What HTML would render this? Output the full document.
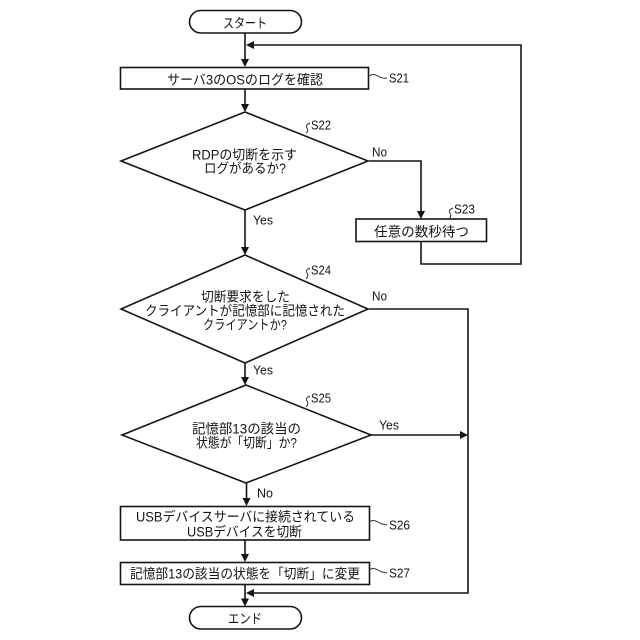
<!DOCTYPE html>
<html><head><meta charset="utf-8"><style>
html,body{margin:0;padding:0;background:#fff}
svg{display:block}
text{font-family:"Liberation Sans","Noto Sans CJK JP",sans-serif;font-size:13.5px;fill:#141414}
.s{font-size:13px}
.l{fill:#fff;stroke:#151515;stroke-width:1.6}
.c{fill:none;stroke:#151515;stroke-width:1.6}
.q{fill:none;stroke:#333;stroke-width:1}
.a{fill:#151515;stroke:none}
</style></head><body>
<svg width="640" height="640" viewBox="0 0 640 640" xmlns="http://www.w3.org/2000/svg">
<!-- connectors -->
<path class="c" d="M245 33V61M245 89V106M245 210V249M245 363V379M246.500 483V500M245 540V556M245 585V600"/>
<path class="c" d="M369 161H421V213M421 242V264H521V45H251"/>
<path class="c" d="M369 309H468V593H251M371 435H462"/>
<!-- arrowheads -->
<path class="a" d="M245 67l-4-8h8zM245 112l-4-8h8zM245 255l-4-8h8zM245 385l-4-8h8zM246.500 506l-4-8h8zM245 562l-4-8h8zM245 606.500l-4-8h8zM421 219l-4-8h8zM246 45l8-4v8zM246 593l8-4v8zM468 435l-8-4v8z"/>
<!-- shapes -->
<rect class="l" x="189.500" y="10.500" width="112" height="22.500" rx="11.250"/>
<rect class="l" x="120.500" y="67.500" width="248" height="21.500"/>
<path class="l" d="M245 112L368 161L245 210L121 161Z"/>
<rect class="l" x="356" y="219" width="130.500" height="22.500"/>
<path class="l" d="M245 255L368 309L245 363L121 309Z"/>
<path class="l" d="M246 385L371 435L246 483L122 435Z"/>
<rect class="l" x="120.500" y="506.500" width="249" height="33.500"/>
<rect class="l" x="120.500" y="562.500" width="249" height="22"/>
<rect class="l" x="189.500" y="606.500" width="112" height="22.500" rx="11.250"/>
<!-- squiggles -->
<path class="q" d="M369 76q4-3 9 0t9 2M369 522q4-3 9 0t9 3M369 570q4-3 9 0t9 3"/>
<path class="q" d="M310 123q-5 2-3 5t-1 5M453 208q-5 2-3 5t-1 6M310 268q-5 2-3 5t-1 6M310 396q-5 2-3 5t-1 6"/>
<!-- text -->
<text x="223" y="28" textLength="44" lengthAdjust="spacingAndGlyphs">スタート</text>
<text x="167" y="84.500" textLength="156" lengthAdjust="spacingAndGlyphs">サーバ3のOSのログを確認</text>
<text class="s" x="389" y="82.500" textLength="20" lengthAdjust="spacingAndGlyphs">S21</text>
<text class="s" x="311" y="129.500" textLength="20" lengthAdjust="spacingAndGlyphs">S22</text>
<text x="192" y="159.500" textLength="105" lengthAdjust="spacingAndGlyphs">RDPの切断を示す</text>
<text x="204" y="173" textLength="82" lengthAdjust="spacingAndGlyphs">ログがあるか?</text>
<text class="s" x="372" y="156.500" textLength="15" lengthAdjust="spacingAndGlyphs">No</text>
<text class="s" x="454" y="213.500" textLength="21" lengthAdjust="spacingAndGlyphs">S23</text>
<text class="s" x="253" y="224.500" textLength="20" lengthAdjust="spacingAndGlyphs">Yes</text>
<text x="374" y="236.500" textLength="95" lengthAdjust="spacingAndGlyphs">任意の数秒待つ</text>
<text class="s" x="311" y="274.500" textLength="20" lengthAdjust="spacingAndGlyphs">S24</text>
<text x="201" y="301.500" textLength="89" lengthAdjust="spacingAndGlyphs">切断要求をした</text>
<text x="145" y="315.500" textLength="200" lengthAdjust="spacingAndGlyphs">クライアントが記憶部に記憶された</text>
<text x="203" y="329.500" textLength="84" lengthAdjust="spacingAndGlyphs">クライアントか?</text>
<text class="s" x="372" y="300.500" textLength="15" lengthAdjust="spacingAndGlyphs">No</text>
<text class="s" x="253" y="374.500" textLength="20" lengthAdjust="spacingAndGlyphs">Yes</text>
<text class="s" x="311" y="402.500" textLength="20" lengthAdjust="spacingAndGlyphs">S25</text>
<text class="s" x="379" y="429.500" textLength="20" lengthAdjust="spacingAndGlyphs">Yes</text>
<text x="192" y="433.500" textLength="109" lengthAdjust="spacingAndGlyphs">記憶部13の該当の</text>
<text x="196" y="447.500" textLength="101" lengthAdjust="spacingAndGlyphs">状態が「切断」か?</text>
<text class="s" x="257" y="497.500" textLength="16" lengthAdjust="spacingAndGlyphs">No</text>
<text x="136" y="521.500" textLength="219" lengthAdjust="spacingAndGlyphs">USBデバイスサーバに接続されている</text>
<text x="187" y="536.500" textLength="115" lengthAdjust="spacingAndGlyphs">USBデバイスを切断</text>
<text class="s" x="389" y="529.500" textLength="21" lengthAdjust="spacingAndGlyphs">S26</text>
<text x="130" y="578.500" textLength="230" lengthAdjust="spacingAndGlyphs">記憶部13の該当の状態を「切断」に変更</text>
<text class="s" x="389" y="577.500" textLength="21" lengthAdjust="spacingAndGlyphs">S27</text>
<text x="228" y="623.500" textLength="34" lengthAdjust="spacingAndGlyphs">エンド</text>
</svg>
</body></html>
